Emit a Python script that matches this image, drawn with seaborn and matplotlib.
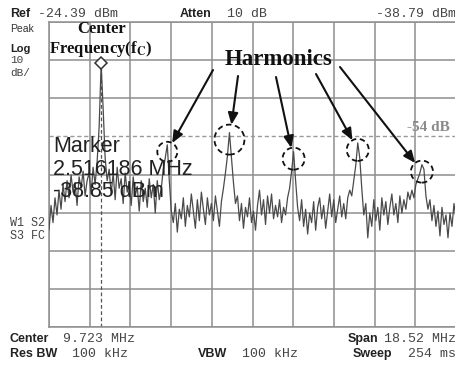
import numpy as np
import pandas as pd
import matplotlib
matplotlib.use("Agg")
import matplotlib.pyplot as plt
from matplotlib.patches import Ellipse
import seaborn as sns

# ---------------- data ----------------
ref_level = -24.39          # dBm, top of screen
db_per_div = 10
n_div_y = 8
center_mhz = 9.723
span_mhz = 18.52
n_div_x = 10
threshold_dbm = -54.39      # dashed "-54 dB" line
marker_freq_text = "2.516186 MHz"
marker_level_text = "-38.85 dBm"

trace_dbm = [
    -79.0, -72.5, -77.0, -70.5, -75.0, -68.5, -73.5, -67.0, -71.5, -66.0,
    -70.5, -64.5, -69.0, -66.5, -72.5, -65.0, -68.0, -63.5, -70.0, -66.0,
    -64.0, -69.5, -62.5, -67.0, -61.0,
    -52.0, -35.5, -47.0, -60.0, -66.0,
    -63.0, -69.5, -64.0, -71.0, -62.5, -68.0, -65.5, -72.0, -64.0, -69.0,
    -66.5, -72.5, -65.0, -70.0, -67.5, -74.0, -66.0, -71.5, -68.0, -73.0,
    -65.5, -70.5, -67.0, -74.5, -66.0, -71.0, -68.0, -63.0,
    -60.0, -56.6, -66.0, -74.0,
    -77.0, -72.0, -79.5, -73.5, -76.0, -70.5, -78.0, -72.5, -75.5, -69.5,
    -74.0, -78.5, -71.0, -76.5, -69.0, -73.5, -77.5, -70.5, -75.0, -72.0,
    -76.5, -70.0, -74.0, -78.0, -71.5, -68.0,
    -64.0, -59.5, -53.4, -60.0, -66.5, -72.0,
    -70.0, -76.5, -72.0, -78.5, -73.0, -75.5, -70.5, -77.0, -74.0, -79.0,
    -72.5, -68.5, -75.0, -71.0, -77.5, -70.0, -74.5, -69.5, -76.0, -72.5,
    -75.5, -71.0, -77.0, -73.0, -75.0, -70.5,
    -68.0, -63.5, -58.4, -66.0, -73.0,
    -76.5, -71.0, -78.0, -73.5, -80.0, -74.5, -77.0, -71.5, -79.0, -73.0,
    -70.5, -76.0, -72.5, -78.5, -74.0, -69.5, -75.5, -71.0, -77.0, -73.5,
    -70.0, -75.5, -72.0, -76.0, -70.5, -68.5, -70.0,
    -66.0, -62.0, -56.1, -60.0, -68.0, -75.0,
    -72.0, -81.0, -74.5, -78.0, -71.0, -76.5, -73.0, -79.0, -70.5, -75.0,
    -71.5, -77.5, -73.0, -69.5, -75.0, -72.0, -77.0, -70.0, -74.5, -71.0,
    -73.5, -69.0, -71.0, -68.5, -70.5, -67.0, -65.5,
    -64.0, -61.8, -63.0, -70.0, -73.5,
    -71.0, -76.5, -72.5, -78.0, -74.0, -80.5, -73.0, -77.5, -75.0, -81.0,
    -74.5, -78.0, -72.0, -76.0,
]
fund_idx = 26
harmonic_idx = [59, 90, 122, 154, 186]

# ---------------- styling / layout ----------------
sns.set_style("white")
plt.rcParams["font.family"] = ["Liberation Sans", "DejaVu Sans"]
plt.rcParams["mathtext.fontset"] = "stix"

W, H = 455, 365
fig = plt.figure(figsize=(W / 100, H / 100), dpi=100)
AX_L, AX_T, AX_R, AX_B = 49, 22, 456, 327
ax = fig.add_axes([AX_L / W, 1 - AX_B / H, (AX_R - AX_L) / W, (AX_B - AX_T) / H])

f_start = center_mhz - span_mhz / 2
f_stop = center_mhz + span_mhz / 2
y_top = ref_level
y_bot = ref_level - n_div_y * db_per_div

freq = np.linspace(f_start, f_stop, len(trace_dbm))
df = pd.DataFrame({"freq": freq, "level": trace_dbm})

mhz_per_px = span_mhz / (AX_R - AX_L)
db_per_px = (n_div_y * db_per_div) / (AX_B - AX_T)


def px2data(px, py):
    return f_start + (px - AX_L) * mhz_per_px, y_top - (py - AX_T) * db_per_px


grid_c = "#8e8e8e"
ax.set_xlim(f_start, f_stop)
ax.set_ylim(y_bot, y_top)
ax.set_xticks([f_start + k * span_mhz / n_div_x for k in range(n_div_x + 1)])
ax.set_yticks([y_top - k * db_per_div for k in range(n_div_y + 1)
               if abs(y_top - k * db_per_div - threshold_dbm) > 0.01])
ax.tick_params(length=0, labelbottom=False, labelleft=False)
ax.grid(True, color=grid_c, lw=1.1)
for s in ax.spines.values():
    s.set_color(grid_c)
    s.set_linewidth(1.1)

# threshold dashed line
ax.axhline(threshold_dbm, color="#9a9a9a", lw=1.0, dashes=(3, 2), zorder=1)

# trace
sns.lineplot(data=df, x="freq", y="level", ax=ax, color="#4a4a4a", lw=0.9,
             sort=False, zorder=3)
ax.set_xlabel("")
ax.set_ylabel("")

# marker line + diamond
fm, lm = freq[fund_idx], trace_dbm[fund_idx]
ax.plot([fm, fm], [y_bot, lm], color="#555555", lw=0.9, dashes=(3, 2), zorder=2)
ax.plot([fm], [lm + 0.3], marker="D", ms=6, mfc="white", mec="#333333",
        mew=1.1, zorder=5, clip_on=False)

# circles + arrows on harmonics
circle_r_px = [10, 15, 11, 11, 11]
arrow_start_px = [(213, 70), (238, 76), (276, 77), (316, 74), (340, 67)]
for idx, r, (sx, sy) in zip(harmonic_idx, circle_r_px, arrow_start_px):
    cx, cy = freq[idx], trace_dbm[idx] - 7 * db_per_px
    ax.add_patch(Ellipse((cx, cy), 2 * r * mhz_per_px, 2 * r * db_per_px,
                         fill=False, ec="#111111", lw=1.3, ls=(0, (3, 2)), zorder=6))
    # arrow end on circle, in pixel space
    cpx = AX_L + (cx - f_start) / mhz_per_px
    cpy = AX_T + (y_top - cy) / db_per_px
    v = np.array([sx - cpx, sy - cpy])
    v = v / np.linalg.norm(v)
    ex, ey = px2data(cpx + v[0] * r, cpy + v[1] * r)
    tx, ty = px2data(sx, sy)
    ax.annotate("", xy=(ex, ey), xytext=(tx, ty),
                arrowprops=dict(arrowstyle="-|>,head_length=0.7,head_width=0.3",
                                color="#111111", lw=1.5, shrinkA=0, shrinkB=0),
                zorder=7, annotation_clip=False)


def ftext(px, py, s, **kw):
    fig.text(px / W, 1 - py / H, s, va="baseline", **kw)


mono = ["Liberation Mono", "DejaVu Sans Mono"]
bold = dict(fontweight="bold", fontsize=9, color="#222222")
mtxt = dict(family=mono, fontsize=9.5, color="#444444")

# header
ftext(10, 17, "Ref", **bold)
ftext(38, 17, "-24.39 dBm", **mtxt)
ftext(180, 17, "Atten", **bold)
ftext(227, 17, "10 dB", **mtxt)
ftext(456, 17, "-38.79 dBm", ha="right", **mtxt)
ftext(10, 32, "Peak", fontsize=7.5, color="#333333")
ftext(10, 52, "Log", fontweight="bold", fontsize=8, color="#222222")
ftext(10, 63, "10", family=mono, fontsize=8, color="#444444")
ftext(10, 76, "dB/", family=mono, fontsize=8, color="#444444")
ftext(10, 226, "W1 S2", family=mono, fontsize=8.5, color="#444444")
ftext(10, 239, "S3 FC", family=mono, fontsize=8.5, color="#444444")

# footer
ftext(10, 342, "Center", **bold)
ftext(63, 342, "9.723 MHz", **mtxt)
ftext(10, 357, "Res BW", **bold)
ftext(72, 357, "100 kHz", **mtxt)
ftext(198, 357, "VBW", **bold)
ftext(242, 357, "100 kHz", **mtxt)
ftext(348, 342, "Span", **bold)
ftext(456, 342, "18.52 MHz", ha="right", **mtxt)
ftext(353, 357, "Sweep", **bold)
ftext(456, 357, "254 ms", ha="right", **mtxt)

# annotations
serif = ["Liberation Serif", "DejaVu Serif"]
ftext(102, 33, "Center", ha="center", family=serif, fontweight="bold",
      fontsize=12, color="#111111")
ftext(101, 53, r"Frequency(f$_\mathbf{C}$)", ha="center", family=serif,
      fontweight="bold", fontsize=12, color="#111111")
ftext(279, 65, "Harmonics", ha="center", family=serif, fontweight="bold",
      fontsize=16.5, color="#111111")
ftext(450, 131, "-54 dB", ha="right", family=serif, fontweight="bold",
      fontsize=11, color="#8a8a8a")

big = dict(fontsize=15.5, color="#222222")
ftext(53, 152, "Marker", **big)
ftext(53, 175, marker_freq_text, **big)
ftext(53, 197, marker_level_text, **big)

fig.savefig("out.png", dpi=100)
